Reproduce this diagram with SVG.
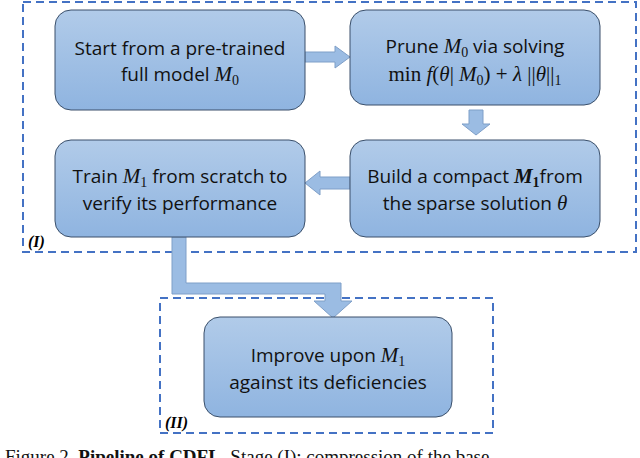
<svg xmlns="http://www.w3.org/2000/svg" width="640" height="458" viewBox="0 0 640 458">
<defs>
<linearGradient id="g" x1="0" y1="0" x2="0" y2="1"><stop offset="0" stop-color="#b1cbe9"/><stop offset="1" stop-color="#8fb4e0"/></linearGradient>
<style>
.n{fill:url(#g);stroke:#3a4f6a;stroke-width:1}
.t{font-family:"Open Sans","Liberation Sans",sans-serif;font-size:19px;fill:#111;text-anchor:middle}
.m{font-family:"Liberation Serif",serif;font-style:italic;font-size:21px}
.s{font-size:14px;font-style:normal}
.d{fill:none;stroke:#4472c4;stroke-width:2;stroke-dasharray:8,5}
.a{fill:#9bbce3;stroke:#7f9fc8;stroke-width:1}
.l{font-family:"Liberation Serif",serif;font-style:italic;font-weight:bold;font-size:16px}
</style>
</defs>
<rect class="d" x="23" y="2" width="613" height="250"/>
<rect class="d" x="160" y="298" width="333" height="135"/>
<text class="l" x="28" y="247">(I)</text>
<text class="l" x="165" y="428">(II)</text>
<g id="connectors">
<path class="a" d="M305,52 H335 V46 L350,57 L335,68 V62 H305 Z"/>
<path class="a" d="M469,110 H483 V124 H490 L476,135 L462,124 H469 Z"/>
<path class="a" d="M350,177 H320 V171 L305,183 L320,195 V189 H350 Z"/>
<path class="a" d="M172,237 H186 V283 H341 V301 H352 L333,318 L314,301 H325 V294 H172 Z"/>
</g>
<g id="n1"><rect class="n" x="55" y="10" width="250" height="100" rx="16"/>
<text class="t" x="180" y="55">Start from a pre-trained</text>
<text class="t" x="180" y="81">full model <tspan class="m">M</tspan><tspan class="m s" dy="4">0</tspan></text></g>
<g id="n2"><rect class="n" x="350" y="10" width="250" height="95" rx="16"/>
<text class="t" x="475" y="53">Prune <tspan class="m">M</tspan><tspan class="m s" dy="4">0</tspan><tspan dy="-4"> via solving</tspan></text>
<text class="t" x="475" y="81"><tspan class="m" style="font-style:normal">min </tspan><tspan class="m">f</tspan><tspan class="m" style="font-style:normal">(</tspan><tspan class="m">θ</tspan><tspan class="m" style="font-style:normal">| </tspan><tspan class="m">M</tspan><tspan class="m s" dy="4">0</tspan><tspan class="m" style="font-style:normal" dy="-4">) + </tspan><tspan class="m">λ</tspan><tspan class="m" style="font-style:normal"> ||</tspan><tspan class="m">θ</tspan><tspan class="m" style="font-style:normal">||</tspan><tspan class="m s" dy="4">1</tspan></text></g>
<g id="n3"><rect class="n" x="350" y="140" width="250" height="97" rx="16"/>
<text class="t" x="475" y="183">Build a compact <tspan class="m" font-weight="bold">M</tspan><tspan class="m s" dy="4" font-weight="bold">1</tspan><tspan dy="-4">from</tspan></text>
<text class="t" x="475" y="210">the sparse solution <tspan class="m">θ</tspan></text></g>
<g id="n4"><rect class="n" x="55" y="140" width="250" height="97" rx="16"/>
<text class="t" x="180" y="183">Train <tspan class="m">M</tspan><tspan class="m s" dy="4">1</tspan><tspan dy="-4"> from scratch to</tspan></text>
<text class="t" x="180" y="210">verify its performance</text></g>
<g id="n5"><rect class="n" x="204" y="317" width="248" height="100" rx="16"/>
<text class="t" x="328" y="362">Improve upon <tspan class="m">M</tspan><tspan class="m s" dy="4">1</tspan></text>
<text class="t" x="328" y="389">against its deficiencies</text></g>
<text x="5" y="463" style="font-family:'Liberation Serif',serif;font-size:19px;fill:#111">Figure 2. <tspan font-weight="bold">Pipeline of CDFL</tspan>. Stage (I): compression of the base</text>
</svg>
